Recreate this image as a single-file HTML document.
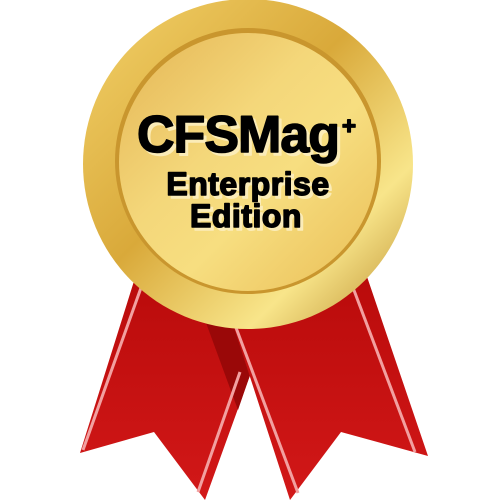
<!DOCTYPE html>
<html><head><style>
html,body{margin:0;padding:0;background:#fff;width:500px;height:500px;overflow:hidden}
svg{display:block}
</style></head><body>
<svg width="500" height="500" viewBox="0 0 500 500" xmlns="http://www.w3.org/2000/svg">
<defs>
<linearGradient id="rib" x1="0" y1="0" x2="0" y2="1"><stop offset="0" stop-color="#b80a0a"/><stop offset="1" stop-color="#d21818"/></linearGradient>
<linearGradient id="outer" x1="0" y1="0" x2="1" y2="1"><stop offset="0" stop-color="#f3d26a"/><stop offset="0.45" stop-color="#d9a93a"/><stop offset="0.75" stop-color="#f8e58a"/><stop offset="1" stop-color="#b8892a"/></linearGradient>
<linearGradient id="inner" x1="0" y1="0" x2="1" y2="1"><stop offset="0" stop-color="#e4b554"/><stop offset="0.4" stop-color="#f4d77a"/><stop offset="0.6" stop-color="#f7de80"/><stop offset="1" stop-color="#e9bd55"/></linearGradient>
</defs>
<polygon points="140,262 80,453 154,432 205,500 252,370 232,300" fill="url(#rib)"/>
<polygon points="205,320 232,310 250,375 238,410" fill="#9a0808"/>
<polygon points="225,300 290,500 341,432 428,456 362,262" fill="url(#rib)"/>
<line x1="142" y1="285" x2="83" y2="450" stroke="#f2a0a0" stroke-width="3"/>
<line x1="240" y1="372" x2="198" y2="492" stroke="#f2a0a0" stroke-width="3"/>
<line x1="235" y1="325" x2="298" y2="493" stroke="#f2a0a0" stroke-width="3"/>
<line x1="352" y1="285" x2="415" y2="452" stroke="#f2a0a0" stroke-width="3"/>
<circle cx="248" cy="164" r="165" fill="url(#outer)"/>
<circle cx="248" cy="161" r="133" fill="#c9962e"/>
<circle cx="248" cy="162" r="129" fill="url(#inner)"/>
<g font-family="Liberation Sans, sans-serif" font-weight="bold" text-anchor="middle" stroke-linejoin="round">
<g fill="#fbecb8" stroke="#fbecb8" stroke-width="1.5" transform="translate(3,3)">
<text x="238" y="152" font-size="52" letter-spacing="-1">CFSMag</text>
<text x="248" y="195" font-size="32" letter-spacing="0.5">Enterprise</text>
<text x="246" y="227" font-size="32" letter-spacing="0.5">Edition</text>
</g>
<g fill="#000" stroke="#000" stroke-width="1.5">
<text x="238" y="152" font-size="52" letter-spacing="-1">CFSMag</text>
<text x="349" y="134" font-size="24">+</text>
<text x="248" y="195" font-size="32" letter-spacing="0.5">Enterprise</text>
<text x="246" y="227" font-size="32" letter-spacing="0.5">Edition</text>
</g>
</g>
</svg>
</body></html>
